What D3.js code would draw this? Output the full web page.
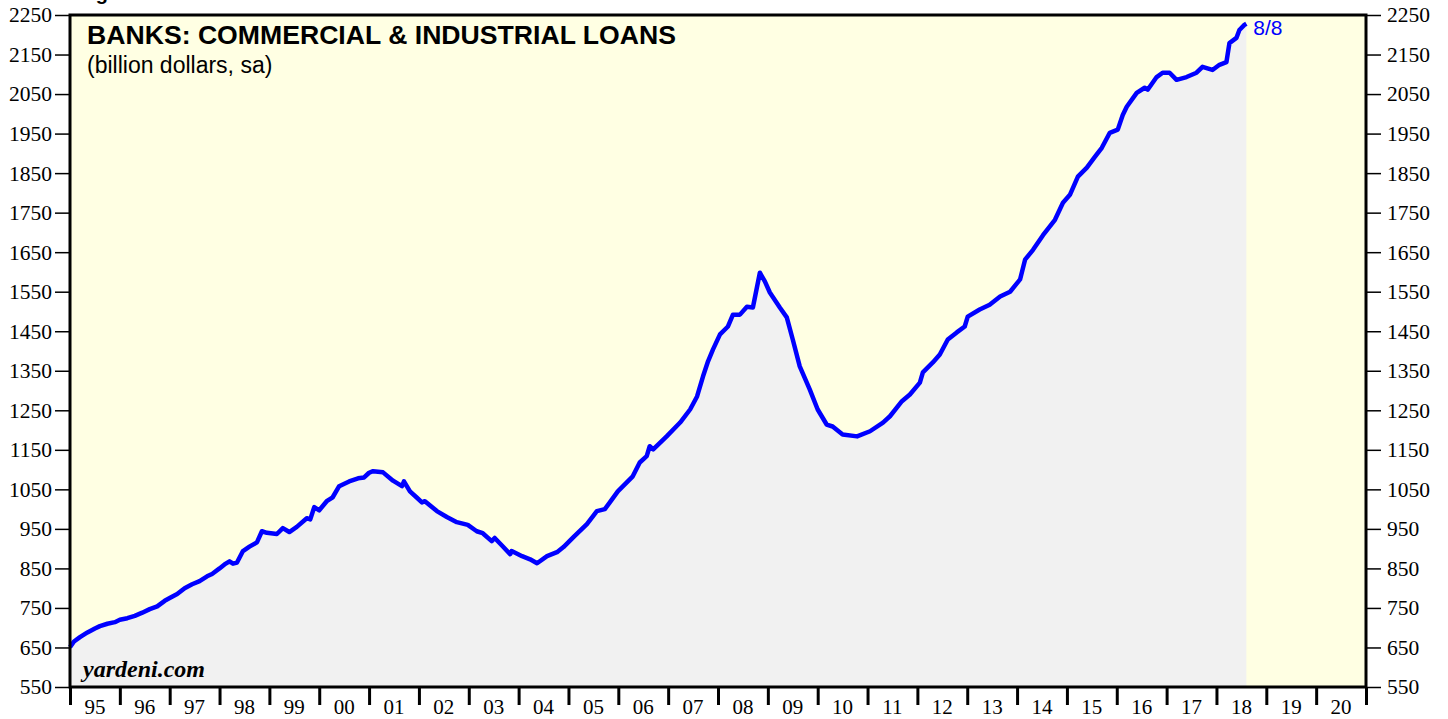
<!DOCTYPE html>
<html><head><meta charset="utf-8">
<script src="https://cdn.jsdelivr.net/npm/d3@7"></script>
<style>body{margin:0;background:#fff;}svg{display:block;}</style>
</head><body>
<script>
const dates = [1995.00,1995.08,1995.2,1995.35,1995.5,1995.6,1995.75,1995.9,1996.0,1996.15,1996.3,1996.45,1996.6,1996.75,1996.9,1997.0,1997.15,1997.3,1997.45,1997.6,1997.75,1997.85,1998.0,1998.1,1998.2,1998.27,1998.35,1998.47,1998.6,1998.75,1998.85,1998.95,1999.15,1999.27,1999.4,1999.55,1999.75,1999.82,1999.9,2000.0,2000.15,2000.27,2000.4,2000.6,2000.78,2000.9,2001.0,2001.08,2001.28,2001.48,2001.66,2001.7,2001.82,2001.95,2002.06,2002.12,2002.36,2002.56,2002.76,2002.98,2003.16,2003.28,2003.46,2003.52,2003.68,2003.83,2003.86,2004.07,2004.23,2004.37,2004.57,2004.77,2004.9,2005.1,2005.37,2005.57,2005.73,2005.83,2005.99,2006.15,2006.29,2006.43,2006.57,2006.63,2006.7,2006.97,2007.24,2007.44,2007.58,2007.7,2007.8,2007.9,2008.04,2008.2,2008.3,2008.44,2008.58,2008.7,2008.84,2008.94,2009.04,2009.24,2009.38,2009.5,2009.64,2009.84,2010.0,2010.18,2010.3,2010.5,2010.79,2011.05,2011.31,2011.45,2011.69,2011.85,2012.05,2012.11,2012.31,2012.45,2012.61,2012.79,2012.95,2013.01,2013.25,2013.45,2013.66,2013.86,2014.06,2014.16,2014.32,2014.52,2014.76,2014.92,2015.06,2015.22,2015.4,2015.56,2015.7,2015.86,2016.02,2016.12,2016.2,2016.4,2016.56,2016.62,2016.8,2016.92,2017.06,2017.2,2017.4,2017.6,2017.72,2017.92,2018.06,2018.2,2018.26,2018.4,2018.46,2018.56,2018.6];
const loans = [651,665,676,688,698,704,710,714,720,724,730,738,747,754,768,775,785,800,810,818,830,836,850,860,868,862,865,894,905,916,944,940,937,952,942,955,977,974,1005,997,1020,1030,1058,1070,1078,1080,1092,1096,1093,1072,1058,1070,1045,1030,1017,1020,995,980,967,960,944,939,919,927,906,886,894,881,873,863,881,891,904,929,962,995,1000,1017,1045,1065,1083,1118,1134,1159,1151,1184,1219,1252,1285,1336,1374,1404,1442,1462,1492,1492,1512,1510,1598,1576,1548,1510,1485,1429,1361,1303,1252,1214,1209,1189,1184,1197,1219,1235,1273,1290,1320,1346,1371,1391,1429,1447,1462,1487,1505,1517,1538,1550,1581,1631,1656,1693,1732,1775,1795,1841,1864,1891,1914,1952,1960,1997,2018,2053,2066,2061,2093,2104,2104,2086,2093,2104,2119,2111,2124,2131,2179,2192,2212,2225,2228];
const yearLabels = ["95","96","97","98","99","00","01","02","03","04","05","06","07","08","09","10","11","12","13","14","15","16","17","18","19","20"];
const yTicks = [550,650,750,850,950,1050,1150,1250,1350,1450,1550,1650,1750,1850,1950,2050,2150,2250];
const lastLabel = "8/8";
const title = "BANKS: COMMERCIAL & INDUSTRIAL LOANS";
const subtitle = "(billion dollars, sa)";

const W = 1448, H = 719;
const L = 70, R = 1366, T = 15, B = 687;
const svg = d3.select("body").append("svg").attr("width", W).attr("height", H);

const x = d3.scaleLinear().domain([1995, 2021]).range([L, R]);
const y = d3.scaleLinear().domain([550, 2250]).range([B, T]);

svg.append("text").attr("x", 78).attr("y", 0).attr("font-family", "Liberation Sans, Arial, sans-serif")
  .attr("font-weight", "bold").attr("font-size", 20).text("Figure 1.");

svg.append("rect").attr("x", L).attr("y", T).attr("width", R - L).attr("height", B - T).attr("fill", "#FFFFE3");

const data = dates.map((d, i) => ({d, v: loans[i]}));
svg.append("path").datum(data)
  .attr("d", d3.area().x(p => x(p.d)).y0(B).y1(p => y(p.v)))
  .attr("fill", "#F1F1F1");
svg.append("path").datum(data)
  .attr("d", d3.line().x(p => x(p.d)).y(p => y(p.v)))
  .attr("fill", "none").attr("stroke", "#0000FF").attr("stroke-width", 4.5).attr("stroke-linejoin", "round");

const last = data[data.length - 1];
svg.append("text").attr("x", x(last.d) + 7).attr("y", y(last.v) + 11)
  .attr("font-family", "Liberation Sans, Arial, sans-serif").attr("font-size", 21).attr("fill", "#0000FF").text(lastLabel);

svg.append("text").attr("x", 87).attr("y", 44).attr("font-family", "Liberation Sans, Arial, sans-serif")
  .attr("font-weight", "bold").attr("font-size", 25).attr("textLength", 589).attr("lengthAdjust", "spacingAndGlyphs").text(title);
svg.append("text").attr("x", 87).attr("y", 73).attr("font-family", "Liberation Sans, Arial, sans-serif")
  .attr("font-size", 23).text(subtitle);
svg.append("text").attr("x", 83).attr("y", 677).attr("font-family", "Liberation Serif, Times New Roman, serif")
  .attr("font-weight", "bold").attr("font-style", "italic").attr("font-size", 24).text("yardeni.com");

// Y axes
const yl = svg.append("g").attr("transform", `translate(${L},0)`)
  .call(d3.axisLeft(y).tickValues(yTicks).tickSize(15).tickPadding(3).tickFormat(d3.format("d")));
const yr = svg.append("g").attr("transform", `translate(${R},0)`)
  .call(d3.axisRight(y).tickValues(yTicks).tickSize(15).tickPadding(6).tickFormat(d3.format("d")));
[yl, yr].forEach(g => {
  g.select(".domain").remove();
  g.selectAll(".tick line").attr("stroke", "#000").attr("stroke-width", 1.5);
  g.selectAll(".tick text").attr("font-family", "Liberation Serif, Times New Roman, serif").attr("font-size", 21.5).attr("fill", "#000");
});

// X axis
const yearTicks = d3.range(1995, 2022);
const xa = svg.append("g").attr("transform", `translate(0,${B})`)
  .call(d3.axisBottom(x).tickValues(yearTicks).tickSize(18).tickFormat(""));
xa.select(".domain").remove();
xa.selectAll(".tick line").attr("stroke", "#000").attr("stroke-width", 3);
svg.append("g").selectAll("text").data(yearLabels).join("text")
  .attr("x", (d, i) => x(1995 + i + 0.5)).attr("y", 714).attr("text-anchor", "middle")
  .attr("font-family", "Liberation Serif, Times New Roman, serif").attr("font-size", 21).text(d => d);

// frame
svg.append("rect").attr("x", L).attr("y", T).attr("width", R - L).attr("height", B - T)
  .attr("fill", "none").attr("stroke", "#000").attr("stroke-width", 3);
</script>
</body></html>
